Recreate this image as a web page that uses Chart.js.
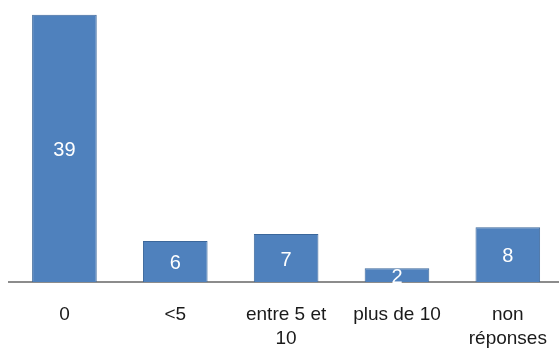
<!DOCTYPE html>
<html>
<head>
<meta charset="utf-8">
<script src="https://cdn.jsdelivr.net/npm/chart.js@4/dist/chart.umd.min.js"></script>
<style>
  html, body { margin: 0; padding: 0; background: #fff; overflow: hidden; }
  #wrap { width: 568px; height: 349px; position: relative; }
</style>
</head>
<body>
<div id="wrap"><canvas id="c" width="568" height="349"></canvas></div>
<script>
// Answer categories (multi-line labels as arrays)
const categories = ['0', '<5', ['entre 5 et', '10'], 'plus de 10', ['non', 'réponses']];
// Number of responses per category
const counts = [39, 6, 7, 2, 8];

// Writes each bar's value in white at the middle of the bar
const barValueLabels = {
  id: 'barValueLabels',
  afterDatasetsDraw(chart) {
    const ctx = chart.ctx;
    const meta = chart.getDatasetMeta(0);
    ctx.save();
    ctx.fillStyle = '#ffffff';
    ctx.font = '20px "Liberation Sans", Arial, sans-serif';
    ctx.textAlign = 'center';
    ctx.textBaseline = 'middle';
    meta.data.forEach((bar, i) => {
      const v = chart.data.datasets[0].data[i];
      const mid = (bar.y + bar.base) / 2;
      ctx.fillText(String(v), bar.x, mid + 2);
    });
    ctx.restore();
  }
};

new Chart(document.getElementById('c'), {
  type: 'bar',
  data: {
    labels: categories,
    datasets: [{
      data: counts,
      backgroundColor: '#4f81bd',
      borderColor: '#3b679b',
      borderWidth: 1,
      borderSkipped: 'bottom',
      categoryPercentage: 1.0,
      barPercentage: 0.583
    }]
  },
  options: {
    responsive: false,
    animation: false,
    devicePixelRatio: 1,
    layout: { padding: { left: 9, right: 1, top: 8, bottom: 0 } },
    plugins: {
      legend: { display: false },
      tooltip: { enabled: false }
    },
    scales: {
      y: {
        display: false,
        min: 0,
        max: 40
      },
      x: {
        afterFit(scale) { scale.height = 67; },
        grid: { display: false, drawTicks: false },
        border: { display: true, color: '#8c8c8c', width: 2 },
        ticks: {
          color: '#1a1a1a',
          padding: 21,
          maxRotation: 0,
          autoSkip: false,
          font: { family: '"Liberation Sans", Arial, sans-serif', size: 19, lineHeight: 1.24 }
        }
      }
    }
  },
  plugins: [barValueLabels]
});
</script>
</body>
</html>
